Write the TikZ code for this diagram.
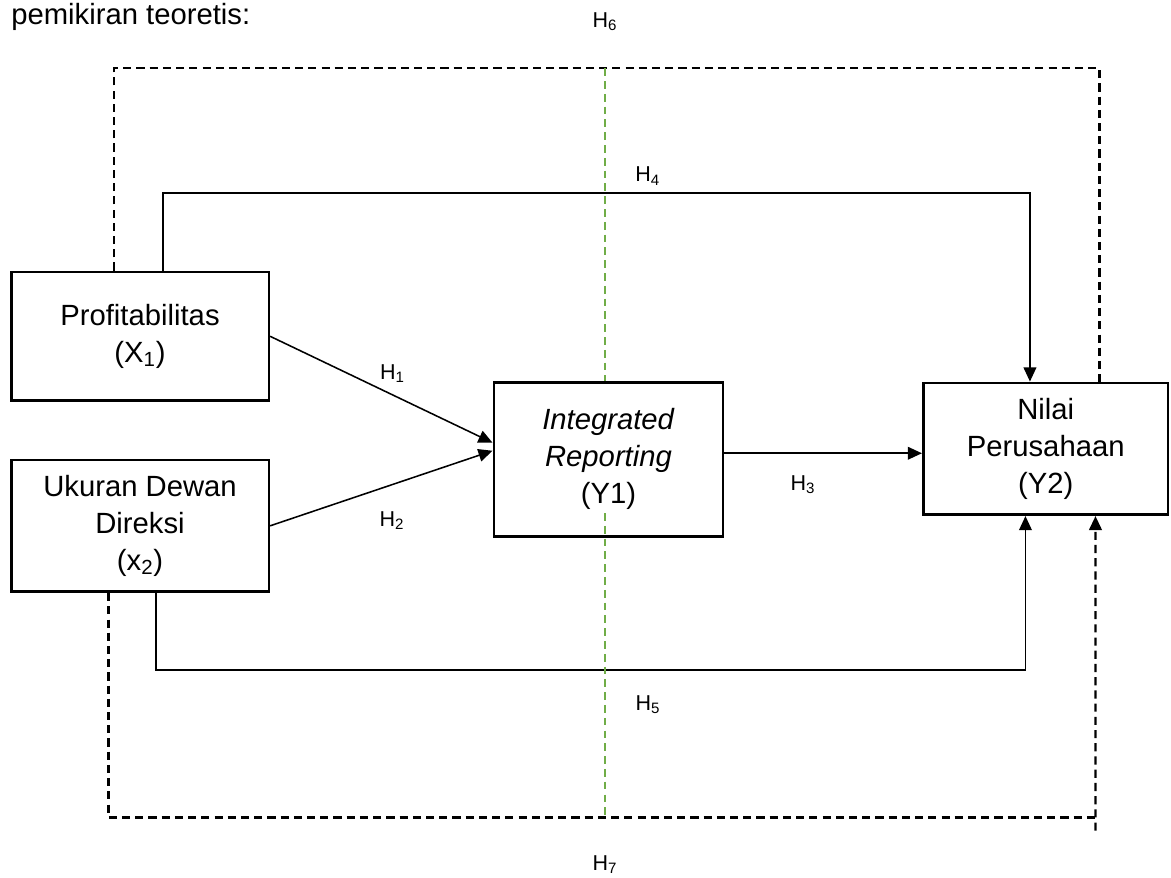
\documentclass[tikz,border=0pt]{standalone}
\usepackage{fontspec}
\setmainfont{Liberation Sans}
\usepackage{xcolor}
\usepackage{tikz}
\usetikzlibrary{shapes, arrows.meta, positioning, calc}

\definecolor{garisHijau}{RGB}{112,173,71}

\begin{document}
\begin{tikzpicture}[x=0.025cm, y=-0.025cm,
  box/.style={draw, rectangle, line width=1.9pt, fill=white, align=center, inner sep=0pt,
    font=\fontsize{20.8pt}{26.3pt}\selectfont},
  hlabel/.style={anchor=base, inner sep=0pt, font=\fontsize{15.3pt}{18pt}\selectfont},
  link/.style={line width=1.1pt, -{Triangle[length=10pt, width=9pt]}},
  dline/.style={line width=1.6pt, dash pattern=on 5.8pt off 3.6pt},
  gline/.style={line width=1.2pt, garisHijau, dash pattern=on 5.5pt off 3.6pt}]
\useasboundingbox (0,0) rectangle (1171,877);

\node[anchor=base west, inner sep=0pt, font=\fontsize{20.8pt}{26.3pt}\selectfont] (judul) at (11,24)
   {pemikiran teoretis:};

% variabel
\node[box, minimum width=6.44cm, minimum height=3.22cm] (profit) at (140,336.3)
   {Profitabilitas\\(X\textsubscript{1})};
\node[box, minimum width=6.44cm, minimum height=3.295cm] (dewan) at (140,525.8)
   {Ukuran Dewan\\Direksi\\(x\textsubscript{2})};
\node[box, minimum width=5.73cm, minimum height=3.855cm] (ir) at (608.5,459.3)
   {\textit{Integrated}\\\textit{Reporting}\\(Y1)};
\node[box, minimum width=6.12cm, minimum height=3.295cm] (nilai) at (1045.7,448.8)
   {Nilai\\Perusahaan\\(Y2)};

% titik bantu
\coordinate (h3s) at ([yshift=4.3pt]ir.east);
\coordinate (h4s) at ([xshift=16.4pt]profit.north);
\coordinate (h4e) at ([xshift=-11.2pt]nilai.north);
\coordinate (h4top) at (605,193);
\coordinate (h5s) at ([xshift=11.4pt]dewan.south);
\coordinate (h5e) at ([xshift=-14.4pt]nilai.south);
\coordinate (h5bot) at (605,670);
\coordinate (h6s) at ([xshift=-18.5pt]profit.north);
\coordinate (h6e) at ([xshift=38.3pt]nilai.north);
\coordinate (h6top) at (605,68.3);
\coordinate (h7s) at ([xshift=-22.4pt]dewan.south);
\coordinate (h7e) at ([xshift=35.4pt]nilai.south);
\coordinate (h7bot) at (605,817.5);
\coordinate (h7tail) at (1095.5,830.7);
\coordinate (gmid) at (605,513);

% hubungan
\draw[link] (profit.east) -- ([yshift=11.8pt]ir.west);
\draw[link] (dewan.east) -- ([yshift=6.1pt]ir.west);
\draw[link] (h3s) -- (h3s -| nilai.west);
\draw[link] (h4s) |- (h4top) -| (h4e);
\draw[link] (h5s) |- (h5bot) -| (h5e);
\draw[dline] (h6s) |- (h6top) -| (h6e);
\draw[dline] (h7s) |- (h7bot) -- (h7bot -| h7e);
\draw[dline, -{Triangle[length=10pt, width=9pt]}] (h7tail) -- (h7e);

% garis hijau
\draw[gline] (h6top) -- (ir.north -| h6top);
\draw[gline] (gmid) -- (h7bot);

\node[hlabel] (h1) at (392.5,379) {H\textsubscript{1}};
\node[hlabel] (h2) at (392,526) {H\textsubscript{2}};
\node[hlabel] (h3) at (803,490) {H\textsubscript{3}};
\node[hlabel] (h4) at (647.7,181.7) {H\textsubscript{4}};
\node[hlabel] (h5) at (648,710) {H\textsubscript{5}};
\node[hlabel] (h6) at (605,27) {H\textsubscript{6}};
\node[hlabel] (h7) at (605,870) {H\textsubscript{7}};
\end{tikzpicture}
\end{document}
